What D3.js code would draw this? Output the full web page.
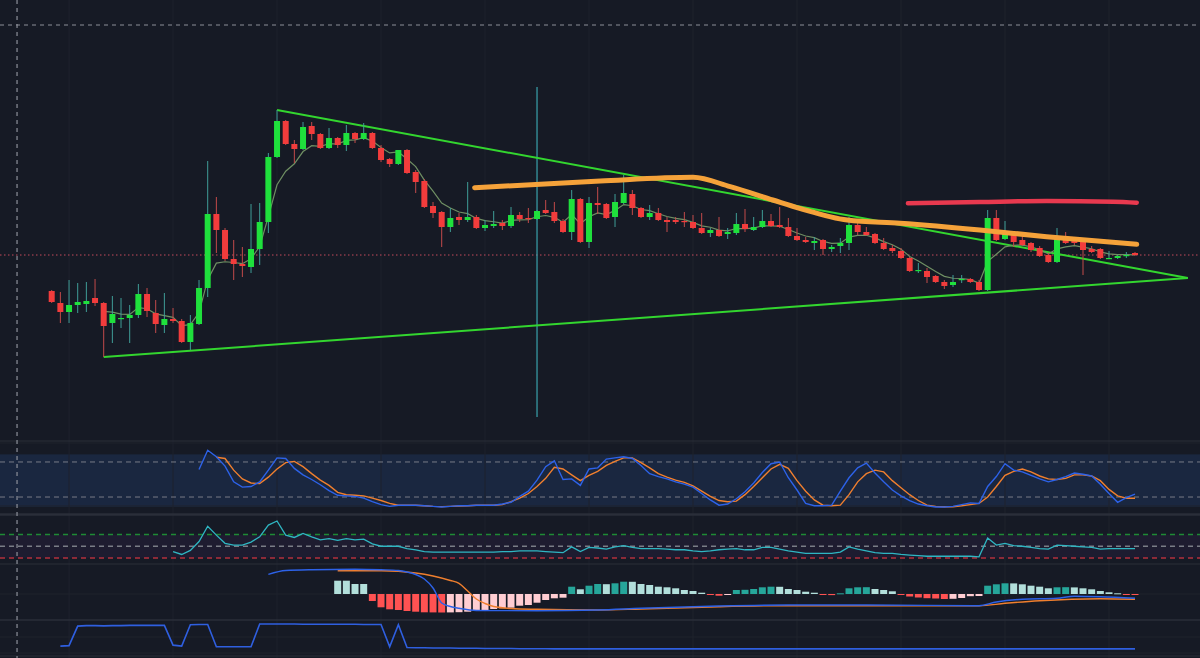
<!DOCTYPE html>
<html>
<head>
<meta charset="utf-8">
<script src="https://cdn.jsdelivr.net/npm/d3@7"></script>
<style>
  body { margin: 0; background: #161a25; overflow: hidden; }
</style>
</head>
<body>
<div id="chart"></div>
<script>
// ---- candles (one per bar, index 0..125)
var opens = [14.9,13.7,12.8,13.5,13.6,14.2,13.7,11.7,12.15,12.2,
  12.5,14.6,12.7,11.5,12.1,11.9,9.8,11.6,15.2,22.6,
  21.0,18.1,17.6,17.3,19.1,21.8,28.3,31.9,29.6,29.1,
  31.4,30.6,29.2,30.2,29.5,30.7,30.1,30.7,29.2,28.1,
  27.6,29.0,26.8,25.9,23.4,22.8,21.3,22.3,22.0,22.3,
  21.2,21.4,21.7,21.4,22.5,22.2,22.1,23.0,22.8,21.9,
  20.8,24.1,19.8,23.7,23.6,22.3,23.7,24.6,23.2,22.3,
  22.7,22.0,22.0,21.9,21.8,21.2,20.7,21.0,20.6,20.7,
  21.6,21.0,21.3,21.9,21.5,21.3,20.4,20.0,19.7,20.0,
  19.1,19.4,19.7,21.5,20.8,20.6,19.7,19.2,18.9,18.2,
  16.9,16.9,16.4,15.8,15.5,16.0,16.1,15.8,15.0,22.2,
  20.1,20.8,20.0,19.7,19.2,18.5,17.8,20.1,19.9,19.8,
  19.1,19.1,18.15,18.2,18.4,18.7];
var highs = [15.0,14.8,16.0,15.7,15.8,16.1,13.8,14.4,14.2,13.5,
  15.6,15.2,14.0,14.7,13.2,12.1,12.5,16.0,27.9,24.3,
  21.2,20.0,19.3,23.6,23.7,28.7,33.0,32.0,30.0,31.8,
  31.8,30.7,31.2,30.3,31.5,30.8,31.7,30.8,29.5,28.2,
  28.8,29.1,27.0,26.1,23.8,22.9,23.2,22.7,25.8,22.5,
  22.0,22.9,22.0,23.3,22.8,23.2,23.0,24.0,23.8,22.1,
  25.0,24.2,24.3,25.3,23.7,24.6,26.5,25.0,23.3,23.5,
  23.2,22.3,22.3,22.8,22.5,22.7,21.2,22.3,21.2,22.7,
  23.1,22.3,23.0,22.6,23.3,22.2,21.2,20.3,20.3,20.1,
  19.5,20.2,22.3,21.7,21.3,20.7,20.2,19.5,19.2,18.3,
  17.7,17.2,16.5,16.0,16.5,16.5,16.2,16.0,23.0,23.0,
  21.9,20.9,20.7,19.8,19.4,18.7,21.2,20.8,20.2,20.0,
  19.4,19.2,18.9,18.5,18.8,18.8];
var lows = [13.7,11.7,11.7,12.7,12.8,13.4,8.3,9.7,11.2,9.7,
  12.2,12.3,10.7,10.7,11.7,9.7,9.0,11.5,14.3,18.7,
  17.9,16.0,16.3,16.7,17.5,20.7,28.2,29.5,27.7,29.0,
  30.0,29.1,29.1,29.2,28.9,29.7,30.0,29.1,27.8,27.3,
  27.5,26.6,24.7,23.2,22.2,19.3,20.8,21.5,21.8,21.1,
  20.9,21.2,21.0,21.2,21.8,21.7,22.0,22.6,21.7,20.7,
  20.0,19.7,19.2,22.6,22.1,21.3,23.6,22.5,22.2,22.0,
  21.9,20.8,21.6,21.3,21.1,20.6,20.3,20.3,20.1,20.5,
  20.8,20.9,21.2,21.3,21.2,20.3,19.9,19.7,19.0,18.5,
  18.8,18.7,19.0,20.5,20.4,19.6,19.0,18.7,18.1,16.8,
  16.7,15.7,15.7,15.1,15.3,15.7,15.7,14.9,14.9,19.9,
  20.0,19.3,19.4,18.8,18.3,17.7,17.7,19.6,19.5,16.5,
  18.7,18.1,18.1,18.1,18.2,18.4];
var closes = [13.8,12.8,13.5,13.8,13.9,13.7,11.4,12.6,12.2,12.5,
  14.6,12.9,11.6,12.1,11.9,9.8,11.7,15.2,22.6,21.0,
  18.1,17.6,17.4,19.1,21.8,28.3,31.9,29.6,29.1,31.3,
  30.6,29.2,30.2,29.5,30.7,30.1,30.7,29.2,28.0,27.6,
  29.0,26.7,25.8,23.3,22.7,21.3,22.2,22.0,22.3,21.2,
  21.5,21.6,21.4,22.5,22.1,22.1,22.9,22.7,21.9,20.8,
  24.1,19.8,23.7,23.5,22.2,23.8,24.7,23.2,22.3,22.7,
  22.0,21.8,21.8,21.8,21.2,20.7,21.0,20.4,20.8,21.6,
  21.1,21.3,21.9,21.4,21.3,20.4,20.0,19.8,19.9,19.1,
  19.3,19.7,21.5,20.8,20.5,19.7,19.1,18.9,18.2,16.9,
  17.0,16.3,15.8,15.4,15.8,16.1,15.8,15.0,22.2,20.0,
  20.8,19.8,19.5,19.0,18.4,17.8,20.1,19.7,19.7,19.0,
  18.8,18.2,18.2,18.4,18.5,18.5];

// ---- drawings on the price pane (bar index, price)
var upperTrend = [[26, 33.0], [131.1, 16.2]];
var lowerTrend = [[6, 8.3], [131.1, 16.2]];
var orangeIdx = [48.8, 63.3, 74.0, 78.3, 83.2, 86.3, 91.8, 97.9, 107.1, 114.8, 125.2];
var orangePrice = [25.23, 25.9, 26.27, 25.33, 24.0, 23.17, 22.0, 21.67, 21.0, 20.33, 19.57];
var redIdx = [98.8, 107.1, 114.8, 122.5, 125.2];
var redPrice = [23.67, 23.8, 23.9, 23.83, 23.73];
var vLineIdx = 56, vLineTop = 35.3, vLineBottom = 2.3;
var crossIdx = -4, crossPrice = 41.5;

// ---- stoch RSI (K from bar 17, D from bar 19)
var stochK = [67,100,89,73,46,37,38,46,66,87,
  86,69,58,50,41,31,23,22,21,18,
  12,7,4,6,6,6,5,4,3,4,
  5,5,6,6,6,8,11,21,30,49,
  72,82,50,51,40,68,70,85,87,89,
  86,74,60,55,51,46,42,37,26,15,
  6,8,17,29,44,62,77,80,53,32,
  9,5,5,6,30,53,70,78,61,46,
  32,22,14,8,5,3,3,4,7,10,
  9,38,55,77,66,63,57,51,46,50,
  55,61,59,56,42,26,11,19,25];
var stochD = [88,86,66,51,44,43,54,68,79,81,
  72,60,49,40,28,24,23,22,18,14,
  9,6,6,6,5,4,3.5,4,4.6,5,
  6,6,6,7,12,18,26,38,52,71,
  68,58,48,57,64,74,81,87,87,79,
  70,60,54,49,45,39,30,21,14,12,
  13,24,38,53,68,76,69,48,30,15,
  6,5,6,24,46,60,66,63,48,36,
  24,14,6,4,3.4,3.4,5,7,9,20,
  38,57,64,68,63,56,51,50,52,58,
  58,56,48,33,22,18,18];
var stochLevels = [80, 20];

// ---- RSI (from bar 14)
var rsi = [41,36,43,58,84,69,55,52,52,57,
  66,86,93,69,65,72,66,61,63,60,
  63,61,62,54,50,50,50,46,44,41,
  40,40,40,40,40,40,40,40,41,41,
  42,42,42,41,40,39,49,41,48,47,
  45,49,51,48,46,46,46,45,44,44,
  42,41,42,44,45,46,44,44,48,48,
  45,42,40,38,38,38,38,40,49,45,
  42,39,38,38,36,35,34,33,33,33,
  33,33,33,32,64,52,55,51,50,48,
  46,45,52,51,50,49,48,45,46,46,
  46,46];
var rsiLevels = [70, 50, 30];

// ---- MACD histogram (from bar 33) and lines (bar index, value)
var macdHist = [1.33,1.33,1.0,1.0,-0.7,-1.33,-1.53,-1.6,-1.7,-1.77,
  -1.83,-1.84,-1.85,-1.84,-1.82,-1.77,-1.67,-1.6,-1.5,-1.43,
  -1.37,-1.17,-1.1,-0.87,-0.6,-0.43,-0.37,0.73,0.47,0.83,
  1.0,0.98,1.07,1.23,1.22,1.0,0.9,0.73,0.67,0.57,
  0.4,0.3,0.13,-0.05,-0.17,-0.1,0.4,0.42,0.5,0.67,
  0.73,0.72,0.5,0.4,0.23,0.13,-0.1,-0.11,0.07,0.57,
  0.67,0.68,0.5,0.4,0.27,-0.1,-0.25,-0.35,-0.42,-0.45,
  -0.5,-0.48,-0.4,-0.22,-0.2,0.83,0.97,1.07,1.06,0.97,
  0.83,0.73,0.57,0.67,0.68,0.66,0.57,0.47,0.3,0.17,
  0.07,-0.03,-0.05];
var macdLine = [[25,1.97],[27,2.35],[30,2.43],[35,2.47],[38,2.42],[40,2.35],[41,2.2],[42,1.95],
  [43,1.5],[44,0.6],[45,-0.9],[46,-1.25],[47,-1.43],[49,-1.65],[56,-1.67],[63,-1.6],
  [68,-1.43],[77,-1.2],[85,-1.1],[94,-1.1],[107,-1.17],[109,-0.8],[112,-0.53],
  [116,-0.43],[118,-0.22],[121,-0.27],[125,-0.43]];
var signalLine = [[33,2.33],[38,2.33],[42,2.1],[44,1.8],[46,1.35],[47,1.07],[48,0.3],
  [49,-0.5],[50,-0.95],[51,-1.25],[53,-1.45],[56,-1.53],[63,-1.6],[68,-1.5],
  [77,-1.27],[85,-1.17],[107,-1.17],[110,-0.93],[114,-0.67],[121,-0.47],[125,-0.53]];

// ---- bottom pane line (from bar 1)
var bottomVals = [0.06,0.08,0.91,0.93,0.93,0.92,0.93,0.93,0.94,0.94,
  0.94,0.94,0.94,0.1,0.06,0.97,0.98,0.98,0.03,0.03,
  0.03,0.03,0.03,1.0,1.0,1.0,1.0,1.0,0.99,0.99,
  0.99,0.99,0.99,0.99,0.99,0.98,0.98,0.98,0.03,0.97,
  0.0,-0.01,-0.01,-0.02,-0.02,-0.02,-0.03,-0.03,-0.03,-0.04,
  -0.04,-0.04,-0.04,-0.05,-0.05,-0.05,-0.05,-0.06,-0.06,-0.06,
  -0.06,-0.06,-0.06,-0.06,-0.06,-0.06,-0.06,-0.06,-0.06,-0.06,
  -0.06,-0.06,-0.06,-0.06,-0.06,-0.06,-0.06,-0.06,-0.06,-0.06,
  -0.06,-0.06,-0.06,-0.06,-0.06,-0.06,-0.06,-0.06,-0.06,-0.06,
  -0.06,-0.06,-0.06,-0.06,-0.06,-0.06,-0.06,-0.06,-0.06,-0.06,
  -0.06,-0.06,-0.06,-0.06,-0.06,-0.06,-0.06,-0.06,-0.06,-0.06,
  -0.06,-0.06,-0.06,-0.06,-0.06,-0.06,-0.06,-0.06,-0.06,-0.06,
  -0.06,-0.06,-0.06,-0.06,-0.06];

// Style setting
var width = 1200, height = 658;
var bg = "#161a25";
var grid_color = "#1e222d";
var sep_color = "#2a2e39";
var up_color = "#1fe03c", up_wick = "#3f9d97";
var down_color = "#f23c3c", down_wick = "#c24a4a";
var trend_color = "#33d62f";
var blue = "#2d62e8", orange = "#f07f2e";

var svg = d3.select("#chart").append("svg")
  .attr("width", width)
  .attr("height", height)
  .style("background", bg);

var x = d3.scaleLinear().domain([0, 125]).range([51.7, 1135]);
var y = d3.scaleLinear().domain([0, 44]).range([440, 0]);
var yStoch = d3.scaleLinear().domain([0, 100]).range([508.7, 450.3]);
var yRsi = d3.scaleLinear().domain([0, 100]).range([575.6, 516.9]);
var yMacd = d3.scaleLinear().domain([-2, 3]).range([614, 564]);
var yBot = d3.scaleLinear().domain([0, 1]).range([647.5, 624]);

// panel backgrounds / bands
svg.append("rect").attr("x", 0).attr("width", width)
  .attr("y", yStoch(93)).attr("height", yStoch(3) - yStoch(93))
  .attr("fill", "#1a2740");
svg.append("rect").attr("x", 0).attr("width", width)
  .attr("y", yRsi(rsiLevels[0])).attr("height", yRsi(rsiLevels[2]) - yRsi(rsiLevels[0]))
  .attr("fill", "#1e1c30");

// vertical grid every 12 bars
var gridIdx = d3.range(2, 126, 12);
svg.append("g").selectAll("line").data(gridIdx).enter().append("line")
  .attr("x1", function(d) { return x(d); }).attr("x2", function(d) { return x(d); })
  .attr("y1", 0).attr("y2", height)
  .attr("stroke", grid_color).attr("stroke-width", 1);

// horizontal grid inside the lower panes
var hGrid = [443, 506, yMacd(0), 637, 653];
svg.append("g").selectAll("line").data(hGrid).enter().append("line")
  .attr("x1", 0).attr("x2", width)
  .attr("y1", function(d) { return d; }).attr("y2", function(d) { return d; })
  .attr("stroke", grid_color).attr("stroke-width", 1);

// pane separators
var seps = [[441, 1], [514.5, 2.5], [564, 1], [620, 1.5], [656, 1]];
svg.append("g").selectAll("line").data(seps).enter().append("line")
  .attr("x1", 0).attr("x2", width)
  .attr("y1", function(d) { return d[0]; }).attr("y2", function(d) { return d[0]; })
  .attr("stroke", sep_color).attr("stroke-width", function(d) { return d[1]; });

// level lines
svg.append("g").selectAll("line").data(stochLevels).enter().append("line")
  .attr("x1", 0).attr("x2", width)
  .attr("y1", function(d) { return yStoch(d); }).attr("y2", function(d) { return yStoch(d); })
  .attr("stroke", "#787b86").attr("stroke-dasharray", "5,4");
var rsiLevelColor = ["#1f8a35", "#7a7d86", "#b3303e"];
svg.append("g").selectAll("line").data(rsiLevels).enter().append("line")
  .attr("x1", 0).attr("x2", width)
  .attr("y1", function(d) { return yRsi(d); }).attr("y2", function(d) { return yRsi(d); })
  .attr("stroke", function(d, i) { return rsiLevelColor[i]; })
  .attr("stroke-width", 1.3)
  .attr("stroke-dasharray", "5,4");

// crosshair
svg.append("line")
  .attr("x1", x(crossIdx)).attr("x2", x(crossIdx)).attr("y1", 0).attr("y2", height)
  .attr("stroke", "#8c8f99").attr("stroke-width", 1.2).attr("stroke-dasharray", "4,4");
svg.append("line")
  .attr("x1", 0).attr("x2", width).attr("y1", y(crossPrice)).attr("y2", y(crossPrice))
  .attr("stroke", "#8c8f99").attr("stroke-width", 1).attr("stroke-dasharray", "4,4");

// last price line
svg.append("line")
  .attr("x1", 0).attr("x2", width)
  .attr("y1", y(closes[closes.length - 1])).attr("y2", y(closes[closes.length - 1]))
  .attr("stroke", "#c24a5c").attr("stroke-width", 1).attr("stroke-dasharray", "1.5,2.5");

// vertical marker
svg.append("line")
  .attr("x1", x(vLineIdx)).attr("x2", x(vLineIdx))
  .attr("y1", y(vLineTop)).attr("y2", y(vLineBottom))
  .attr("stroke", "#3aa3ad").attr("stroke-width", 1.2);

// trend lines
var trend = d3.line().x(function(d) { return x(d[0]); }).y(function(d) { return y(d[1]); });
svg.append("g").selectAll("path").data([upperTrend, lowerTrend]).enter().append("path")
  .attr("d", trend).attr("fill", "none")
  .attr("stroke", trend_color).attr("stroke-width", 2);

// short EMA of closes
var ema = [];
var period = 5, k = 2 / (period + 1);
closes.forEach(function(c, i) {
  if (i < period - 1) { ema.push(null); return; }
  if (i === period - 1) { ema.push(d3.mean(closes.slice(0, period))); return; }
  ema.push(ema[i - 1] + k * (c - ema[i - 1]));
});
var emaLine = d3.line()
  .defined(function(d, i) { return i >= 6; })
  .x(function(d, i) { return x(i); }).y(function(d) { return y(d); });
svg.append("path").attr("d", emaLine(ema))
  .attr("fill", "none").attr("stroke", "#6f8f63").attr("stroke-width", 1.2);

// candles
var candles = d3.range(opens.length).map(function(i) {
  return { i: i, o: opens[i], h: highs[i], l: lows[i], c: closes[i] };
});
var cg = svg.append("g");
cg.selectAll("line").data(candles).enter().append("line")
  .attr("x1", function(d) { return x(d.i); }).attr("x2", function(d) { return x(d.i); })
  .attr("y1", function(d) { return y(d.h); }).attr("y2", function(d) { return y(d.l); })
  .attr("stroke", function(d) { return d.c >= d.o ? up_wick : down_wick; })
  .attr("stroke-width", 1);
cg.selectAll("rect").data(candles).enter().append("rect")
  .attr("x", function(d) { return x(d.i) - 3; })
  .attr("width", 6)
  .attr("y", function(d) { return y(Math.max(d.o, d.c)); })
  .attr("height", function(d) { return Math.max(1.2, Math.abs(y(d.o) - y(d.c))); })
  .attr("fill", function(d) { return d.c >= d.o ? up_color : down_color; });

// hand drawn brush lines
var brush = d3.line().curve(d3.curveMonotoneX)
  .x(function(d) { return x(d[0]); }).y(function(d) { return y(d[1]); });
svg.append("path")
  .attr("d", brush(orangeIdx.map(function(d, i) { return [d, orangePrice[i]]; })))
  .attr("fill", "none").attr("stroke", "#f5a23a").attr("stroke-width", 5)
  .attr("stroke-linecap", "round").attr("stroke-linejoin", "round");
svg.append("path")
  .attr("d", brush(redIdx.map(function(d, i) { return [d, redPrice[i]]; })))
  .attr("fill", "none").attr("stroke", "#e8394f").attr("stroke-width", 4.5)
  .attr("stroke-linecap", "round");

// stoch RSI
var stochLine = function(start) {
  return d3.line().x(function(d, i) { return x(i + start); }).y(function(d) { return yStoch(d); });
};
svg.append("path").attr("d", stochLine(19)(stochD))
  .attr("fill", "none").attr("stroke", orange).attr("stroke-width", 1.4);
svg.append("path").attr("d", stochLine(17)(stochK))
  .attr("fill", "none").attr("stroke", blue).attr("stroke-width", 1.4);

// RSI
svg.append("path")
  .attr("d", d3.line().x(function(d, i) { return x(i + 14); }).y(function(d) { return yRsi(d); })(rsi))
  .attr("fill", "none").attr("stroke", "#2fb6c2").attr("stroke-width", 1.3);

// MACD histogram
var histColor = function(v, i) {
  var prev = i > 0 ? macdHist[i - 1] : v;
  if (v >= 0) return prev < v ? "#26a69a" : "#b2dfdb";
  return prev < v ? "#ffcdd2" : "#ff5252";
};
svg.append("g").selectAll("rect").data(macdHist).enter().append("rect")
  .attr("x", function(d, i) { return x(i + 33) - 3.5; })
  .attr("width", 7)
  .attr("y", function(d) { return yMacd(Math.max(0, d)); })
  .attr("height", function(d) { return Math.max(1, Math.abs(yMacd(d) - yMacd(0))); })
  .attr("fill", function(d, i) { return histColor(d, i); });

var macdPath = d3.line().curve(d3.curveMonotoneX)
  .x(function(d) { return x(d[0]); }).y(function(d) { return yMacd(d[1]); });
svg.append("path").attr("d", macdPath(signalLine))
  .attr("fill", "none").attr("stroke", orange).attr("stroke-width", 1.4);
svg.append("path").attr("d", macdPath(macdLine))
  .attr("fill", "none").attr("stroke", blue).attr("stroke-width", 1.4);

// bottom pane
svg.append("path")
  .attr("d", d3.line().x(function(d, i) { return x(i + 1); }).y(function(d) { return yBot(d); })(bottomVals))
  .attr("fill", "none").attr("stroke", "#2f5fe0").attr("stroke-width", 1.6);
</script>
</body>
</html>
